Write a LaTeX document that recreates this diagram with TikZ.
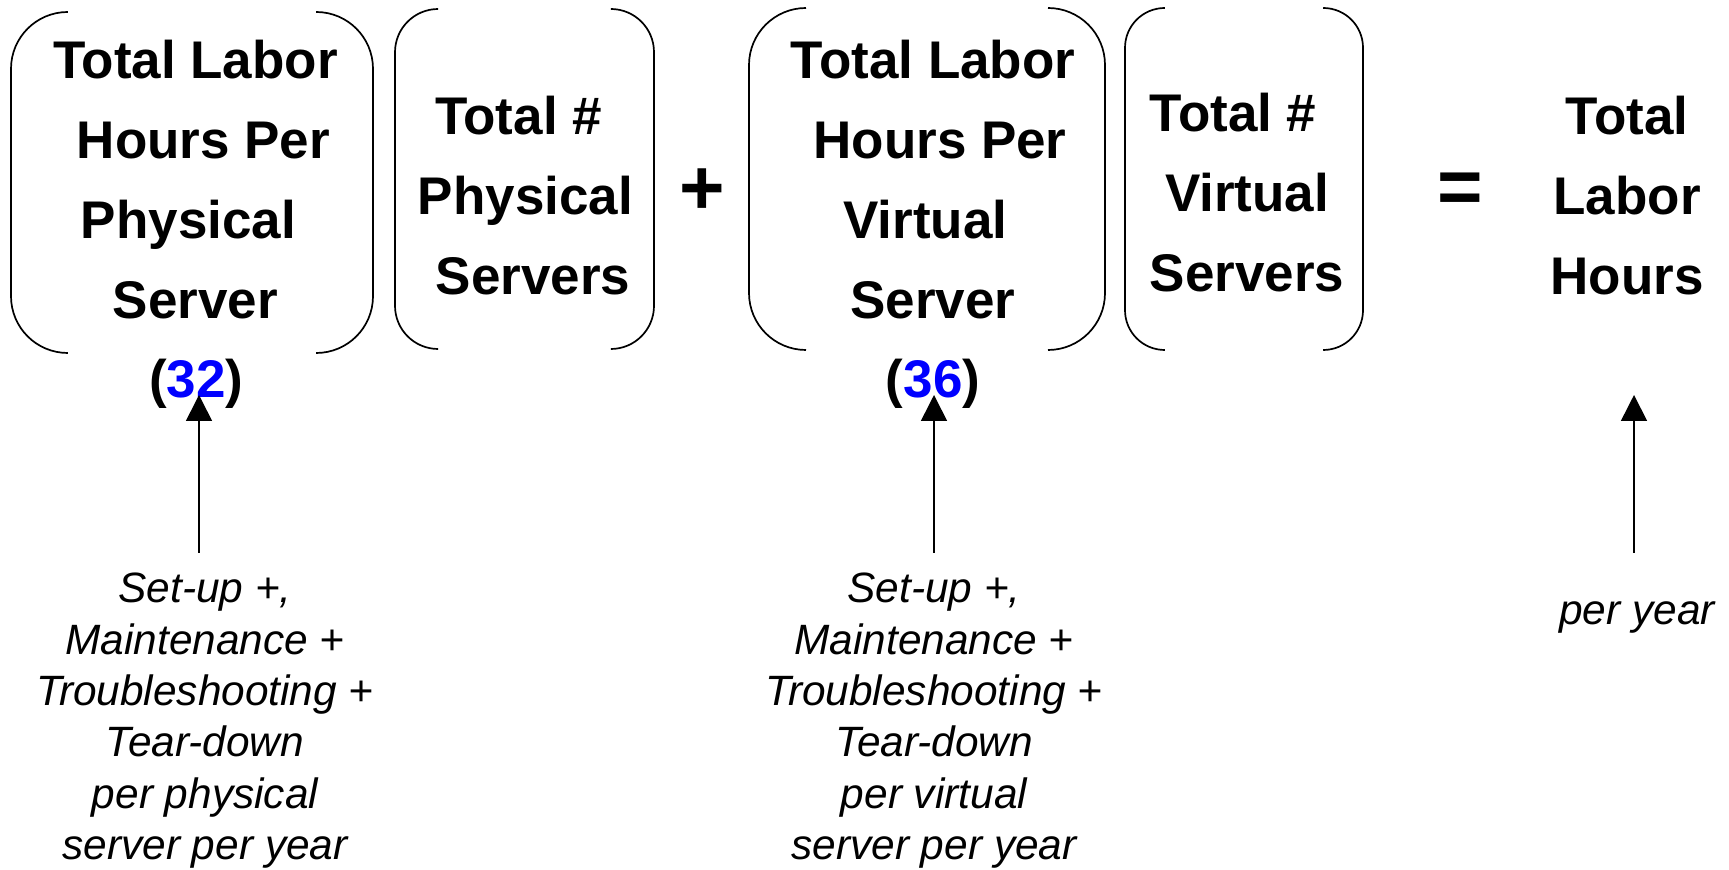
\documentclass[tikz,border=0pt]{standalone}
\usepackage{fontspec}
\setmainfont{Liberation Sans}
\usetikzlibrary{arrows.meta}
\definecolor{numblue}{RGB}{0,0,255}
\newcommand\shr[2]{\hspace*{#1pt}#2}
\newcommand\shl[2]{#2\hspace*{#1pt}}
\newcommand\bracketpair[5]{% x0 y0 x1 y1 radius(pt)
  \draw[bracketline,rounded corners=#5pt] (#1+#5*2,#2) -- (#1,#2) -- (#1,#4) -- (#1+#5*2,#4);
  \draw[bracketline,rounded corners=#5pt] (#3-#5*2,#2) -- (#3,#2) -- (#3,#4) -- (#3-#5*2,#4);
}
\tikzset{
  bracketline/.style={line width=0.85pt, black},
  boldtext/.style={anchor=base, inner sep=0pt, font=\fontsize{26.5}{40}\selectfont\bfseries},
  optext/.style={anchor=center, inner sep=0pt, font=\fontsize{39}{44}\selectfont\bfseries},
  notetext/.style={anchor=base, inner sep=0pt, font=\fontsize{21.2}{25.65}\selectfont\itshape},
  arr/.style={line width=0.8pt, -{Triangle[width=13pt,length=13pt]}},
}
\begin{document}
\begin{tikzpicture}[x=0.5pt,y=-0.5pt]
\useasboundingbox (0,0) rectangle (1729,870);

% bracket pairs
\bracketpair{11}{12}{373}{353}{28.4}
\bracketpair{395}{9}{654}{349}{21.6}
\bracketpair{749}{8}{1105}{350}{28.5}
\bracketpair{1125}{8}{1363}{350}{19.9}

% bracket texts
\node[boldtext] (hp) at (195.5,79) {\begin{tabular}[t]{@{}c@{}}Total Labor\\\shr{8}{Hours Per}\\\shl{7}{Physical}\\Server\end{tabular}};
\node[boldtext] (np) at (525.5,135) {\begin{tabular}[t]{@{}c@{}}\shl{7}{Total \#}\\Physical\\\shr{7.5}{Servers}\end{tabular}};
\node[boldtext] (hv) at (933,79) {\begin{tabular}[t]{@{}c@{}}Total Labor\\\shr{7}{Hours Per}\\\shl{7.5}{Virtual}\\Server\end{tabular}};
\node[boldtext] (nv) at (1242,132) {\begin{tabular}[t]{@{}c@{}}\shl{9}{Total \#}\\\shr{5}{Virtual}\\\shr{5}{Servers}\end{tabular}};
\node[boldtext] (res) at (1627,135) {\begin{tabular}[t]{@{}c@{}}Total\\Labor\\Hours\end{tabular}};

% operators
\node[optext] (plus) at (702,192) {+};
\node[optext] (eq) at (1460,193) {=};

% values
\node[boldtext] (vp) at (196.4,398) {(\textcolor{numblue}{32})};
\node[boldtext] (vv) at (933,398) {(\textcolor{numblue}{36})};

% notes
\node[notetext] (dp) at (205,603) {\begin{tabular}[t]{@{}c@{}}Set-up +,\\Maintenance +\\Troubleshooting +\\Tear-down\\per physical\\server per year\end{tabular}};
\node[notetext] (dv) at (934,603) {\begin{tabular}[t]{@{}c@{}}Set-up +,\\Maintenance +\\Troubleshooting +\\Tear-down\\per virtual\\server per year\end{tabular}};
\node[notetext] (dy) at (1637,625) {per year};

% arrows
\coordinate (tp) at (199,395);
\coordinate (sp) at (199,553);
\coordinate (tv) at (934,395);
\coordinate (sv) at (934,553);
\coordinate (ty) at (1634,395);
\coordinate (sy) at (1634,553);
\draw[arr] (sp) -- (tp);
\draw[arr] (sv) -- (tv);
\draw[arr] (sy) -- (ty);
\end{tikzpicture}
\end{document}
